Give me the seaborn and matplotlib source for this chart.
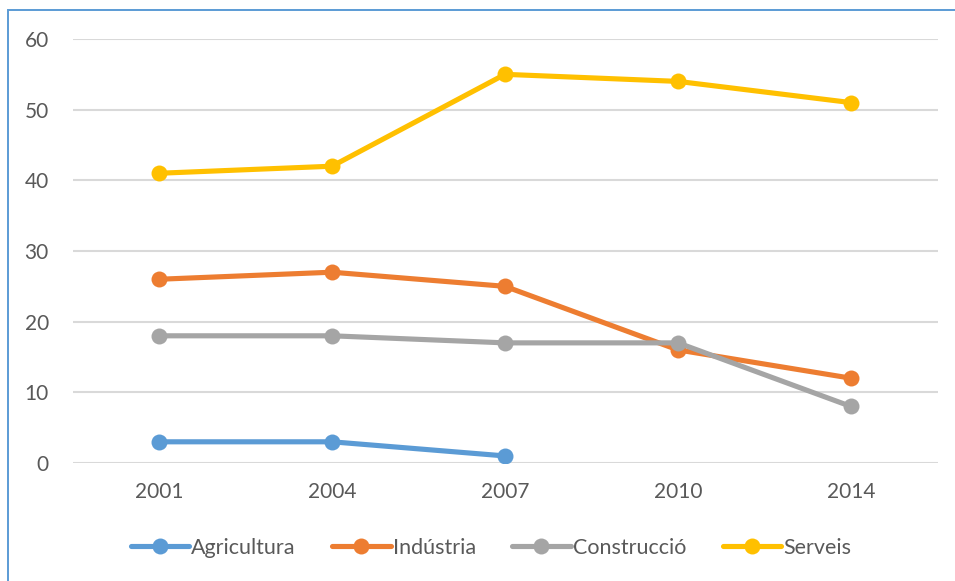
import matplotlib
matplotlib.use("Agg")
import matplotlib.pyplot as plt
import pandas as pd
import seaborn as sns
from matplotlib.patches import Rectangle

# Data
years = ["2001", "2004", "2007", "2010", "2014"]
agricultura = [3, 3, 1, None, None]
industria = [26, 27, 25, 16, 12]
construccio = [18, 18, 17, 17, 8]
serveis = [41, 42, 55, 54, 51]
series_names = ["Agricultura", "Indústria", "Construcció", "Serveis"]
colors = ["#5B9BD5", "#ED7D31", "#A5A5A5", "#FFC000"]

rows = []
for name, vals in zip(series_names, [agricultura, industria, construccio, serveis]):
    for y, v in zip(years, vals):
        rows.append({"year": y, "value": v, "sector": name})
df = pd.DataFrame(rows).dropna()

sns.set_theme(style="white")
plt.rcParams["font.family"] = ["Lato", "DejaVu Sans"]
text_color = "#595959"

W, H = 955, 581
fig = plt.figure(figsize=(W / 100, H / 100), dpi=100)
ax = fig.add_axes([72.5 / W, 1 - 463 / H, 865 / W, 424 / H])

sns.lineplot(data=df, x="year", y="value", hue="sector", hue_order=series_names,
             palette=colors, marker="o", markersize=11.5, markeredgewidth=0,
             linewidth=3.7, sort=False, ax=ax, legend=True)

ax.set_xlim(-0.5, 4.5)
ax.set_ylim(0, 60)
ax.set_yticks(range(0, 61, 10))
ax.grid(axis="y", color="#D9D9D9", linewidth=1.5)
ax.set_axisbelow(True)
for s in ax.spines.values():
    s.set_visible(False)
ax.set_xlabel("")
ax.set_ylabel("")
ax.tick_params(axis="both", length=0, labelsize=15, colors=text_color)
ax.tick_params(axis="x", pad=14)
ax.tick_params(axis="y", pad=17)

handles, labels = ax.get_legend_handles_labels()
ax.get_legend().remove()
leg = fig.legend(handles, labels, loc="center", bbox_to_anchor=(491 / W, 1 - 548 / H),
                 ncol=4, frameon=False, fontsize=15.5, handlelength=2.7,
                 handletextpad=0.1, columnspacing=1.7)
for t in leg.get_texts():
    t.set_color(text_color)

# chart frame (only left and top visible in the crop)
fig.add_artist(Rectangle((7.5 / W, -0.1), 1.2, 1 - 9.5 / H + 0.1,
                         transform=fig.transFigure, fill=False,
                         edgecolor="#5B9BD5", linewidth=1.4, clip_on=False))

fig.savefig("out.png", dpi=100)
